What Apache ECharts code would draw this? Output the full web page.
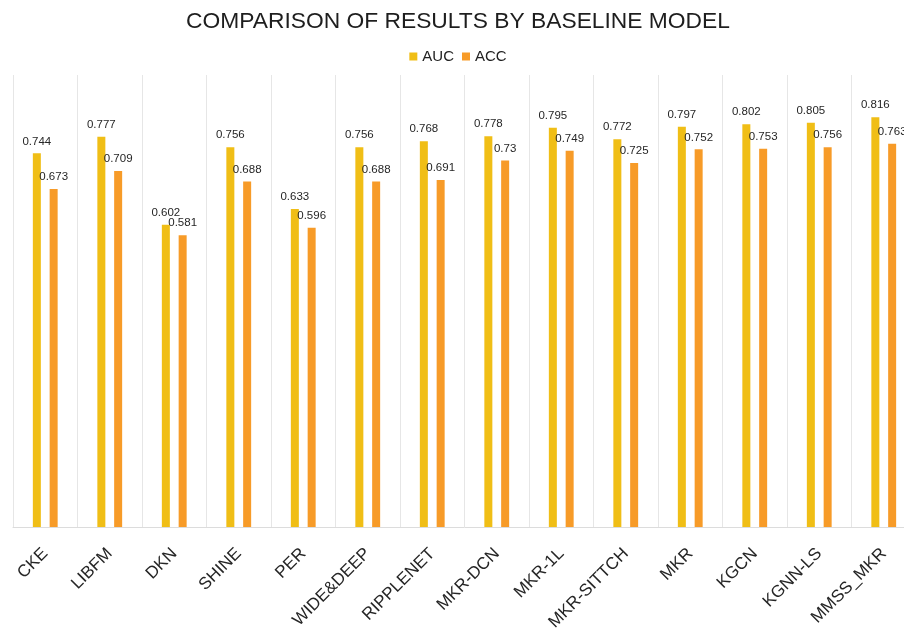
<!DOCTYPE html>
<html>
<head>
<meta charset="utf-8">
<script src="https://cdn.jsdelivr.net/npm/echarts@6/dist/echarts.min.js"></script>
<style>
  html, body { margin: 0; padding: 0; background: #ffffff; overflow: hidden; }
  /* canvas is a little wider than the window; the last column runs off the right edge */
  #chart { width: 916px; height: 631px; }
</style>
</head>
<body>
<div id="chart"></div>
<script>
// Baseline models compared
const models = ['CKE', 'LIBFM', 'DKN', 'SHINE', 'PER', 'WIDE&DEEP', 'RIPPLENET',
  'MKR-DCN', 'MKR-1L', 'MKR-SITTCH', 'MKR', 'KGCN', 'KGNN-LS', 'MMSS_MKR'];
// Metric values per model
const aucValues = [0.744, 0.777, 0.602, 0.756, 0.633, 0.756, 0.768,
  0.778, 0.795, 0.772, 0.797, 0.802, 0.805, 0.816];
const accValues = [0.673, 0.709, 0.581, 0.688, 0.596, 0.688, 0.691,
  0.73, 0.749, 0.725, 0.752, 0.753, 0.756, 0.763];

const FONT = '"Liberation Sans", Arial, sans-serif';

const chart = echarts.init(document.getElementById('chart'), null, { renderer: 'canvas' });

const valueLabel = {
  show: true,
  position: 'top',
  distance: 6,
  color: '#262626',
  fontSize: 11.5,
  fontFamily: FONT
};

chart.setOption({
  animation: false,
  backgroundColor: '#ffffff',
  title: {
    text: 'COMPARISON OF RESULTS BY BASELINE MODEL',
    left: 'center',
    top: 5,
    textStyle: { fontFamily: FONT, fontSize: 22.8, fontWeight: 'normal', color: '#1e1e1e' }
  },
  legend: {
    top: 44,
    left: 'center',
    itemWidth: 8,
    itemHeight: 8,
    itemGap: 8,
    icon: 'rect',
    textStyle: { fontFamily: FONT, fontSize: 15, color: '#222222' },
    data: ['AUC', 'ACC']
  },
  grid: {
    left: 13, top: 75, width: 903, height: 452,
    containLabel: false,
    outerBoundsMode: 'none'
  },
  xAxis: {
    type: 'category',
    data: models,
    axisLine: { show: true, lineStyle: { color: '#dcdcdc', width: 1 } },
    axisTick: { show: false },
    splitLine: { show: true, lineStyle: { color: '#e6e6e6', width: 1 } },
    axisLabel: {
      rotate: 45,
      margin: 24,
      interval: 0,
      color: '#262626',
      fontSize: 17,
      fontFamily: FONT
    }
  },
  yAxis: {
    type: 'value',
    min: 0,
    max: 0.9,
    show: false,
    splitLine: { show: false }
  },
  series: [
    {
      name: 'AUC',
      type: 'bar',
      data: aucValues,
      barWidth: 8,
      barGap: '110%',
      itemStyle: { color: '#F0BE16' },
      label: valueLabel
    },
    {
      name: 'ACC',
      type: 'bar',
      data: accValues,
      barWidth: 8,
      barGap: '110%',
      itemStyle: { color: '#F79B28' },
      label: valueLabel
    }
  ]
});
</script>
</body>
</html>
